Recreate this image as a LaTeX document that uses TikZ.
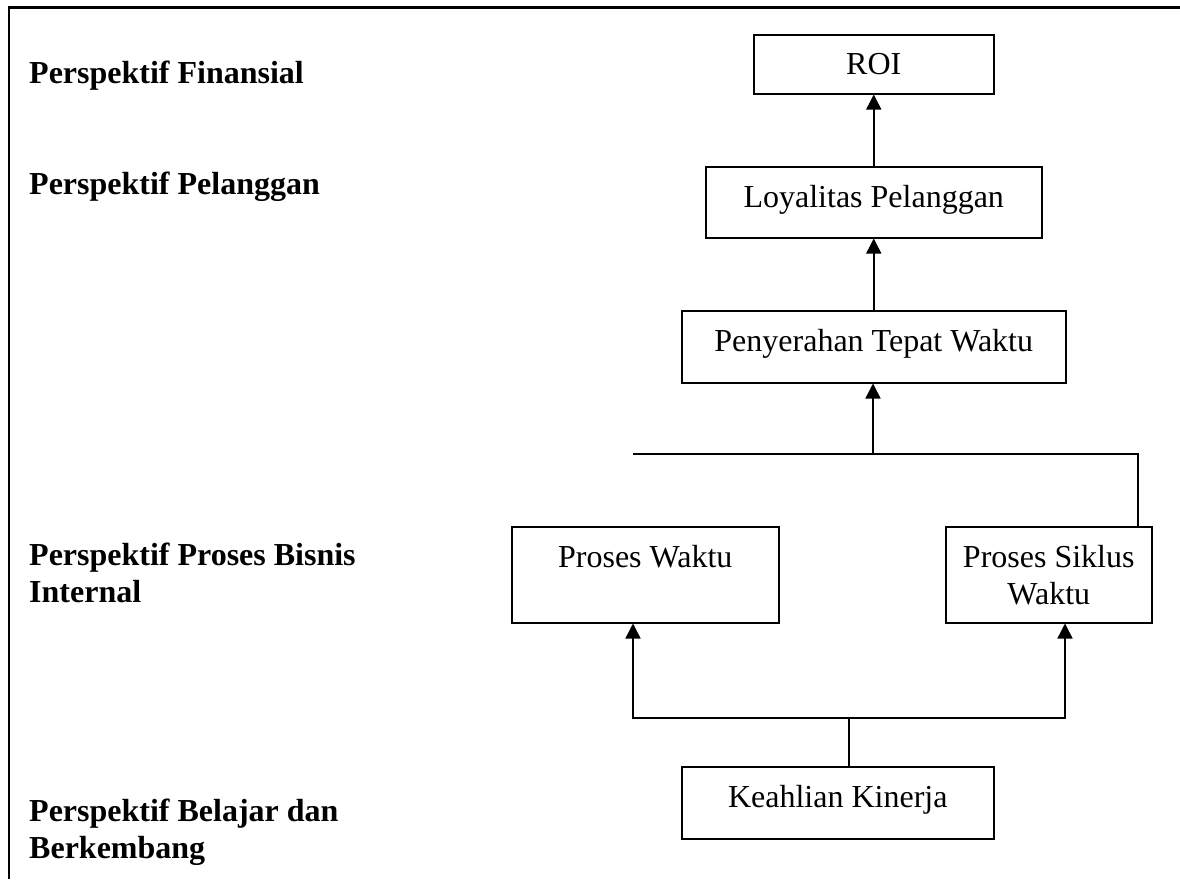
\documentclass[tikz,border=0pt]{standalone}
\usepackage{fontspec}
\setmainfont{Liberation Serif}
\usetikzlibrary{arrows.meta,calc}
\begin{document}
\begin{tikzpicture}[x=1pt,y=-1pt,
  box/.style={draw, line width=1.5pt, inner sep=0pt, anchor=north west},
  txt/.style={inner sep=0pt, font=\fontsize{32}{37}\selectfont, align=center, anchor=north},
  lbl/.style={inner sep=0pt, font=\fontsize{32}{36.5}\selectfont\bfseries, align=left, anchor=north west},
  conn/.style={line width=1.5pt},
  arr/.style={conn, -{Triangle[length=15pt,width=15pt]}}]
\useasboundingbox (0,0) rectangle (1180,879);
\draw[line width=2.2pt] (9,879) -- (9,7.5) -- (1180,7.5);

% labels
\node[lbl] (l1) at (29,61) {Perspektif Finansial};
\node[lbl] (l2) at (29,172) {Perspektif Pelanggan};
\node[lbl] (l3) at (29,543) {Perspektif Proses Bisnis\\Internal};
\node[lbl] (l4) at (29,799) {Perspektif Belajar dan\\Berkembang};

% boxes
\node[box, minimum width=240pt, minimum height=59pt] (roi) at (753,34) {};
\node[box, minimum width=336pt, minimum height=71pt] (loyal) at (705,166) {};
\node[box, minimum width=384pt, minimum height=72pt] (peny) at (681,310) {};
\node[box, minimum width=267pt, minimum height=96pt] (pw) at (511,526) {};
\node[box, minimum width=206pt, minimum height=96pt] (ps) at (945,526) {};
\node[box, minimum width=312pt, minimum height=72pt] (keah) at (681,766) {};

% box texts
\node[txt] (troi) at ($(roi.north)+(0,19.5)$) {ROI};
\node[txt] (tloyal) at ($(loyal.north)+(0,19.5)$) {Loyalitas Pelanggan};
\node[txt] (tpeny) at ($(peny.north)+(0,19.5)$) {Penyerahan Tepat Waktu};
\node[txt] (tpw) at ($(pw.north)+(0,19.5)$) {Proses Waktu};
\node[txt] (tps) at ($(ps.north)+(0,19.5)$) {Proses Siklus\\Waktu};
\node[txt] (tkeah) at ($(keah.north)+(0,19.5)$) {Keahlian Kinerja};

% connectors
\draw[arr] (loyal.north) -- (roi.south);
\draw[arr] (peny.north) -- (loyal.south);

\coordinate (jt) at (873,454);
\coordinate (jl) at (633,454);
\coordinate (jr) at (1138,454);
\draw[arr] (jt) -- (jt |- peny.south);
\draw[conn] (jl) -- (jr) -- (jr |- ps.north);

\coordinate (kb) at (849,718);
\coordinate (bl) at (633,718);
\coordinate (br) at (1065,718);
\draw[conn] (kb |- keah.north) -- (kb);
\draw[arr] (kb) -- (bl) -- (bl |- pw.south);
\draw[arr] (kb) -- (br) -- (br |- ps.south);
\end{tikzpicture}
\end{document}
